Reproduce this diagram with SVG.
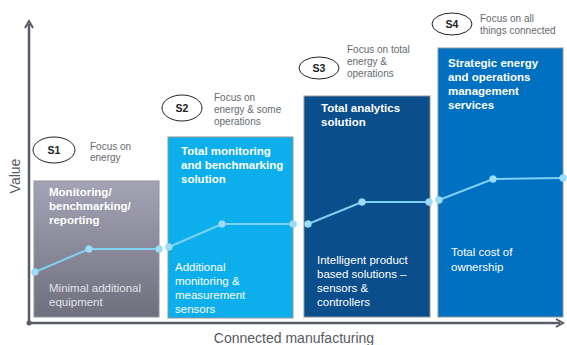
<svg xmlns="http://www.w3.org/2000/svg" width="567" height="345" viewBox="0 0 567 345">
<defs>
<linearGradient id="g1" x1="0" y1="0" x2="0" y2="1">
<stop offset="0" stop-color="#a3a3b5"/>
<stop offset="1" stop-color="#6f6f7e"/>
</linearGradient>
<marker id="ah" viewBox="0 0 10 10" refX="5" refY="5" markerWidth="4" markerHeight="4" orient="auto">
<path d="M1,1 L8,5 L1,9" fill="none" stroke="#575c68" stroke-width="2"/>
</marker>
</defs>
<style>
text{font-family:"Liberation Sans",Arial,sans-serif}
.box{stroke:#8f949c;stroke-width:1}
.t{font-size:11.5px;font-weight:bold;fill:#ffffff}
.b{font-size:11.5px;fill:#ffffff}
.g{fill:#e2e2ea}
.f{font-size:10px;fill:#666a70}
.e{fill:#ffffff;stroke:#222;stroke-width:1}
.s{font-size:10.5px;font-weight:bold;fill:#222;text-anchor:middle}
.ln{fill:none;stroke:#7fd0f2;stroke-width:2}
.dt{fill:#9fdcf5;stroke:#7fd0f2;stroke-width:0.5}
.ax{stroke:#575c68;stroke-width:2.5;fill:none}
.al{font-size:14px;fill:#555a62}
</style>
<g id="axes">
<path class="ax" d="M29,323 L29,24" marker-end="url(#ah)"/>
<path class="ax" d="M29,323 L560,323" marker-end="url(#ah)"/>
<circle cx="29" cy="323" r="2.5" fill="#575c68"/>
<text class="al" x="0" y="0" transform="translate(20,176) rotate(-90)" text-anchor="middle">Value</text>
<text class="al" x="294" y="343" text-anchor="middle">Connected manufacturing</text>
</g>
<g id="s1">
<rect class="box" x="34" y="181" width="125" height="136" fill="url(#g1)"/>
<text class="t" x="49" y="196">Monitoring/</text>
<text class="t" x="49" y="210">benchmarking/</text>
<text class="t" x="49" y="224">reporting</text>
<text class="b g" x="49" y="292">Minimal additional</text>
<text class="b g" x="49" y="306">equipment</text>
<ellipse class="e" cx="54" cy="150" rx="21" ry="13"/>
<text class="s" x="54" y="154">S1</text>
<text class="f" x="90" y="150">Focus on</text>
<text class="f" x="90" y="161">energy</text>
</g>
<g id="s2">
<rect class="box" x="168" y="137" width="125" height="181" fill="#0cafeb"/>
<text class="t" x="181" y="155">Total monitoring</text>
<text class="t" x="181" y="169">and benchmarking</text>
<text class="t" x="181" y="183">solution</text>
<text class="b" x="175" y="271">Additional</text>
<text class="b" x="175" y="285">monitoring  &amp;</text>
<text class="b" x="175" y="299">measurement</text>
<text class="b" x="175" y="313">sensors</text>
<ellipse class="e" cx="182" cy="108" rx="20" ry="13"/>
<text class="s" x="182" y="112">S2</text>
<text class="f" x="214" y="101">Focus on</text>
<text class="f" x="214" y="113">energy &amp; some</text>
<text class="f" x="214" y="125">operations</text>
</g>
<g id="s3">
<rect class="box" x="304" y="96" width="126" height="221" fill="#0a4e8c"/>
<text class="t" x="321" y="112">Total analytics</text>
<text class="t" x="321" y="126">solution</text>
<text class="b" x="317" y="264">Intelligent product</text>
<text class="b" x="317" y="278">based solutions –</text>
<text class="b" x="317" y="292">sensors &amp;</text>
<text class="b" x="317" y="306">controllers</text>
<ellipse class="e" cx="319" cy="68" rx="20" ry="11"/>
<text class="s" x="319" y="72">S3</text>
<text class="f" x="347" y="53">Focus on total</text>
<text class="f" x="347" y="65">energy &amp;</text>
<text class="f" x="347" y="77">operations</text>
</g>
<g id="s4">
<rect class="box" x="438" y="48" width="125" height="269" fill="#0070c0"/>
<text class="t" x="448" y="67">Strategic energy</text>
<text class="t" x="448" y="81">and operations</text>
<text class="t" x="448" y="95">management</text>
<text class="t" x="448" y="109">services</text>
<text class="b" x="451" y="256">Total cost of</text>
<text class="b" x="451" y="271">ownership</text>
<ellipse class="e" cx="452" cy="24" rx="20" ry="11"/>
<text class="s" x="452" y="28">S4</text>
<text class="f" x="480" y="22">Focus on all</text>
<text class="f" x="480" y="34">things connected</text>
</g>
<g id="connectors">
<polyline class="ln" points="35,272 89,249 159,249"/>
<polyline class="ln" points="169,247 222,224 293,224"/>
<polyline class="ln" points="308,224 362,202 429,202"/>
<polyline class="ln" points="439,200 493,179 563,178"/>
<g>
<circle class="dt" cx="35" cy="272" r="3.5"/><circle class="dt" cx="89" cy="249" r="3.5"/><circle class="dt" cx="159" cy="249" r="3.5"/>
<circle class="dt" cx="169" cy="247" r="3.5"/><circle class="dt" cx="222" cy="224" r="3.5"/><circle class="dt" cx="293" cy="224" r="3.5"/>
<circle class="dt" cx="308" cy="224" r="3.5"/><circle class="dt" cx="362" cy="202" r="3.5"/><circle class="dt" cx="429" cy="202" r="3.5"/>
<circle class="dt" cx="439" cy="200" r="3.5"/><circle class="dt" cx="493" cy="179" r="3.5"/><circle class="dt" cx="563" cy="178" r="3.5"/>
</g>
</g>
</svg>
